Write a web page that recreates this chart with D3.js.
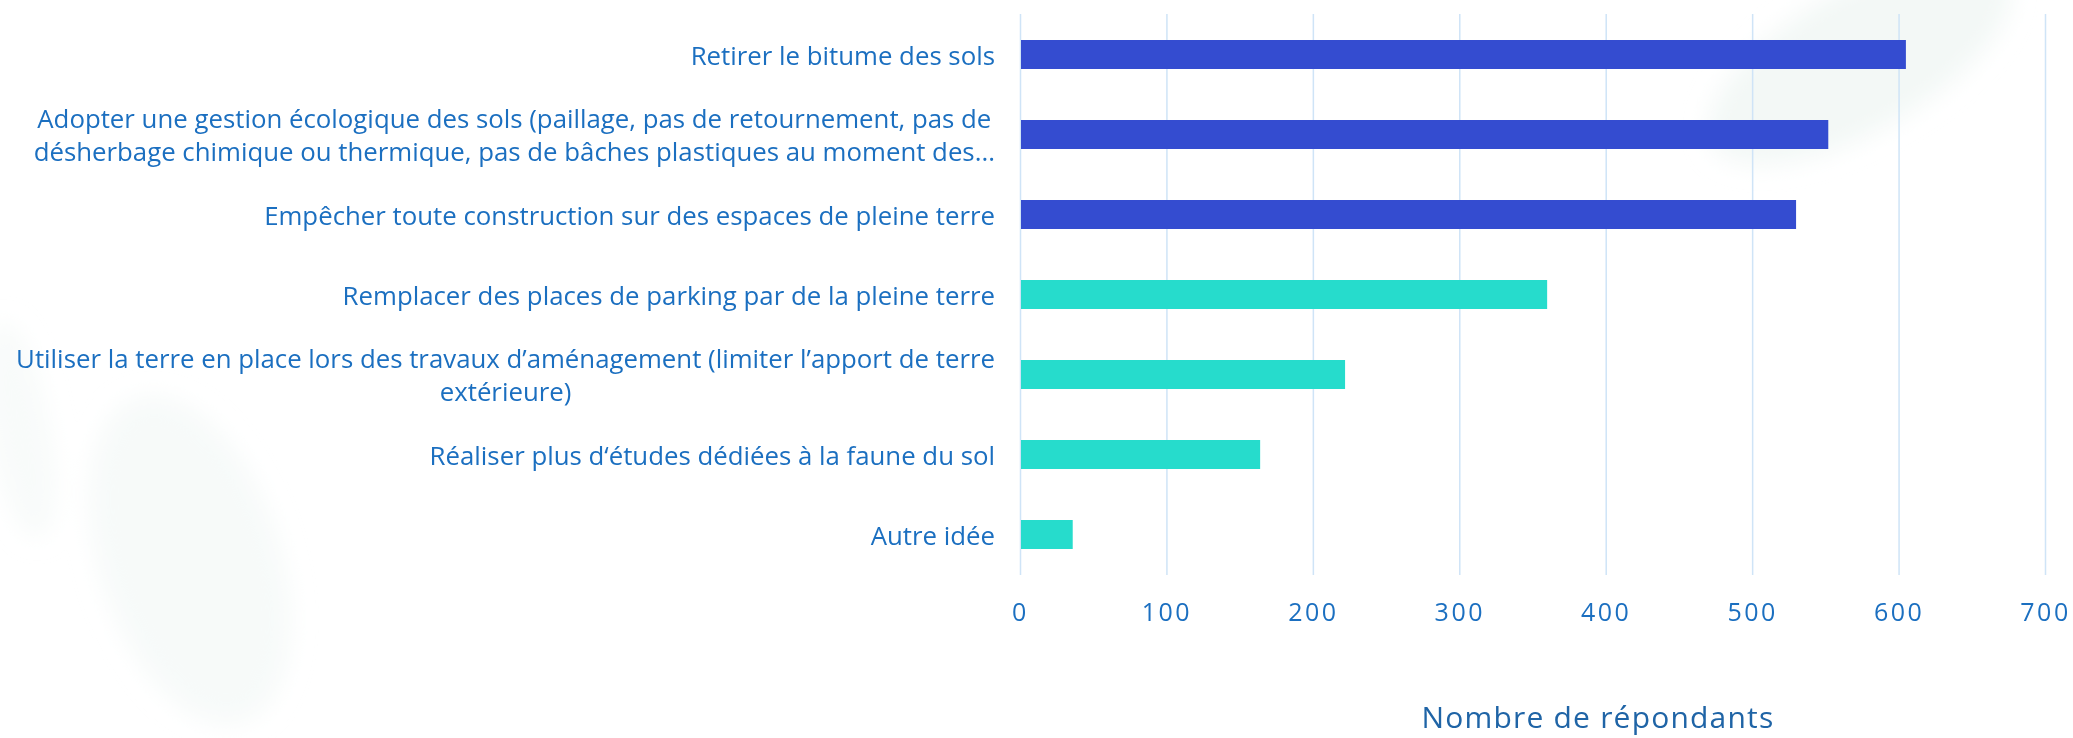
<!DOCTYPE html>
<html>
<head>
<meta charset="utf-8">
<script src="https://cdn.jsdelivr.net/npm/d3@7"></script>
<style>
  html, body { margin: 0; padding: 0; background: #fff; }
  svg { display: block; font-family: 'Open Sans', sans-serif; }
</style>
</head>
<body>
<div id="chart"></div>
<script>
'use strict';

// Categories, one entry per bar, already split over lines like the reference.
const labels = [
  ['Retirer le bitume des sols'],
  ['Adopter une gestion écologique des sols (paillage, pas de retournement, pas de',
   'désherbage chimique ou thermique, pas de bâches plastiques au moment des...'],
  ['Empêcher toute construction sur des espaces de pleine terre'],
  ['Remplacer des places de parking par de la pleine terre'],
  ['Utiliser la terre en place lors des travaux d’aménagement (limiter l’apport de terre',
   'extérieure)'],
  ['Réaliser plus d‘études dédiées à la faune du sol'],
  ['Autre idée']
];
const values = [605, 552, 530, 360, 222, 164, 36];
// The first three answers are highlighted in dark blue.
const groups = ['top', 'top', 'top', 'other', 'other', 'other', 'other'];
const xTicks = [0, 100, 200, 300, 400, 500, 600, 700];
const xTitle = 'Nombre de répondants';

const width = 2073;
const height = 738;
const colors = {top: '#344cd0', other: '#26dccc'};
const textColor = '#1b6fc0';

const svg = d3.select('#chart')
  .append('svg')
  .attr('width', width)
  .attr('height', height);

// Faint leaf watermark in the background.
const defs = svg.append('defs');
defs.append('filter')
  .attr('id', 'soft')
  .append('feGaussianBlur')
  .attr('stdDeviation', 12);

const leaves = svg.append('g')
  .attr('filter', 'url(#soft)')
  .attr('fill', '#f3f8f6');
leaves.append('ellipse')
  .attr('transform', 'translate(1860, 60) rotate(-30)')
  .attr('rx', 170).attr('ry', 70);
leaves.append('ellipse')
  .attr('transform', 'translate(190, 560) rotate(72)')
  .attr('rx', 170).attr('ry', 90)
  .attr('opacity', 0.7);
leaves.append('ellipse')
  .attr('transform', 'translate(20, 430) rotate(80)')
  .attr('rx', 110).attr('ry', 30)
  .attr('opacity', 0.6);

const ids = labels.map((d, i) => i);

const x = d3.scaleLinear()
  .domain([0, 700])
  .range([1020, 2045]);

const y = d3.scaleBand()
  .domain(ids)
  .range([14.5, 574.5])
  .paddingInner(0.6375)
  .paddingOuter(0.31875);

// Vertical gridlines and tick labels.
const xAxis = d3.axisBottom(x)
  .tickValues(xTicks)
  .tickSize(-(575 - 14))
  .tickPadding(28);

const axisG = svg.append('g')
  .attr('transform', 'translate(0, 575)')
  .call(xAxis);
axisG.select('.domain').remove();
axisG.selectAll('.tick line')
  .attr('stroke', '#cfe4f7')
  .attr('stroke-width', 1.5);
axisG.selectAll('.tick text')
  .attr('fill', textColor)
  .attr('font-family', "'Open Sans', sans-serif")
  .attr('font-size', '25px')
  .attr('letter-spacing', '2.5px');

// Bars.
svg.append('g')
  .selectAll('rect')
  .data(ids)
  .join('rect')
  .attr('x', x(0) + 1)
  .attr('y', i => y(i))
  .attr('width', i => x(values[i]) - x(0) - 1)
  .attr('height', y.bandwidth())
  .attr('fill', i => colors[groups[i]]);

// Category labels: the block is right aligned, its lines centred.
const labelRight = 995;
const lineGap = 33;

ids.forEach(i => {
  const lines = labels[i];
  const cy = y(i) + y.bandwidth() / 2;
  const text = svg.append('text')
    .attr('fill', textColor)
    .attr('font-size', '25.8px')
    .attr('dominant-baseline', 'central');

  const spans = lines.map((line, k) => text.append('tspan')
    .attr('y', cy + (k - (lines.length - 1) / 2) * lineGap)
    .text(line));

  if (lines.length === 1) {
    text.attr('text-anchor', 'end');
    spans[0].attr('x', labelRight);
  } else {
    const maxW = d3.max(spans, s => s.node().getComputedTextLength());
    text.attr('text-anchor', 'middle');
    spans.forEach(s => s.attr('x', labelRight - maxW / 2));
  }
});

// Axis title.
svg.append('text')
  .attr('x', 1598)
  .attr('y', 716)
  .attr('text-anchor', 'middle')
  .attr('dominant-baseline', 'central')
  .attr('fill', '#1f64a6')
  .attr('font-size', '30px')
  .attr('letter-spacing', '1.2px')
  .text(xTitle);
</script>
</body>
</html>
